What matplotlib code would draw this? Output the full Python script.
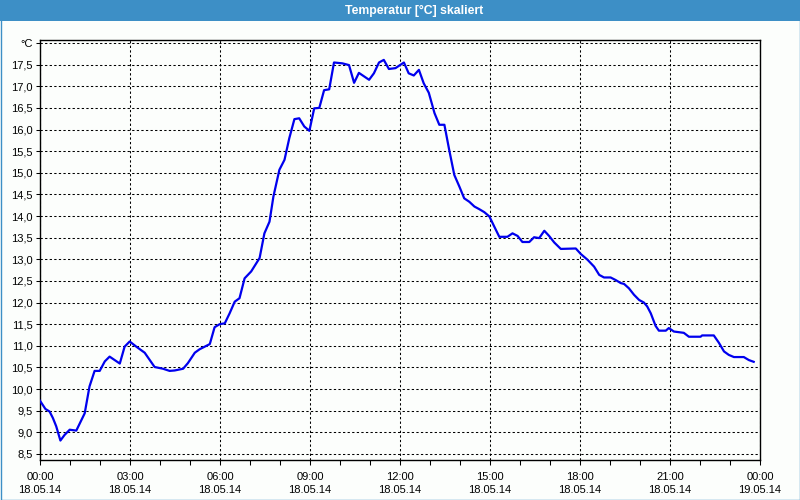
import matplotlib
matplotlib.use("Agg")
import matplotlib.pyplot as plt
from matplotlib.patches import Rectangle
from matplotlib.ticker import FixedLocator, MultipleLocator

# Messwerte (Stunden seit 18.05.14 00:00, Temperatur in °C)
stunden = [0.00, 0.18, 0.32, 0.43, 0.54, 0.68, 0.82, 0.99, 1.21, 1.49, 1.65, 1.82, 1.99, 2.16, 2.32, 2.66,
           2.82, 2.99, 3.21, 3.49, 3.82, 4.10, 4.32, 4.49, 4.77, 4.93, 5.16, 5.32, 5.66, 5.82, 5.99, 6.16,
           6.32, 6.49, 6.65, 6.82, 7.04, 7.32, 7.48, 7.65, 7.78, 7.98, 8.15, 8.31, 8.48, 8.64, 8.81, 8.98,
           9.14, 9.31, 9.47, 9.64, 9.80, 10.08, 10.30, 10.47, 10.63, 10.97, 11.13, 11.30, 11.46, 11.63,
           11.85, 12.13, 12.29, 12.46, 12.63, 12.79, 12.96, 13.15, 13.31, 13.48, 13.64, 13.81, 13.98, 14.14,
           14.31, 14.48, 14.64, 14.81, 14.98, 15.14, 15.31, 15.58, 15.75, 15.92, 16.08, 16.31, 16.47, 16.64,
           16.81, 16.97, 17.14, 17.36, 17.86, 18.03, 18.25, 18.47, 18.64, 18.80, 19.02, 19.19, 19.36, 19.47,
           19.63, 19.80, 19.97, 20.13, 20.24, 20.36, 20.52, 20.63, 20.86, 20.96, 21.13, 21.46, 21.63, 22.02,
           22.07, 22.46, 22.63, 22.80, 22.96, 23.13, 23.46, 23.63, 23.79]
temperatur = [9.73, 9.54, 9.48, 9.33, 9.14, 8.81, 8.94, 9.06, 9.04, 9.44, 10.06, 10.42, 10.42, 10.64, 10.75, 10.59,
              10.98, 11.10, 10.98, 10.84, 10.51, 10.47, 10.42, 10.43, 10.47, 10.60, 10.84, 10.92, 11.04, 11.43, 11.50, 11.52,
              11.75, 12.02, 12.10, 12.56, 12.72, 13.03, 13.60, 13.87, 14.45, 15.07, 15.30, 15.80, 16.24, 16.26, 16.07, 15.97,
              16.49, 16.50, 16.91, 16.93, 17.55, 17.53, 17.49, 17.08, 17.31, 17.15, 17.30, 17.55, 17.61, 17.40,
              17.42, 17.55, 17.30, 17.25, 17.38, 17.07, 16.85, 16.38, 16.11, 16.11, 15.53, 14.95, 14.68, 14.41,
              14.33, 14.22, 14.16, 14.09, 13.99, 13.76, 13.52, 13.52, 13.60, 13.54, 13.40, 13.40, 13.51, 13.49,
              13.66, 13.54, 13.39, 13.24, 13.25, 13.12, 12.99, 12.83, 12.64, 12.58, 12.58, 12.52, 12.45, 12.43,
              12.33, 12.18, 12.06, 12.00, 11.91, 11.75, 11.46, 11.35, 11.35, 11.41, 11.33, 11.30, 11.21, 11.21,
              11.24, 11.24, 11.07, 10.87, 10.79, 10.74, 10.74, 10.67, 10.63]

# Achsenbeschriftungen
x_ticks = [0, 3, 6, 9, 12, 15, 18, 21, 24]
x_labels = ["00:00\n18.05.14", "03:00\n18.05.14", "06:00\n18.05.14", "09:00\n18.05.14",
            "12:00\n18.05.14", "15:00\n18.05.14", "18:00\n18.05.14", "21:00\n18.05.14",
            "00:00\n19.05.14"]
y_ticks = [8.5, 9.0, 9.5, 10.0, 10.5, 11.0, 11.5, 12.0, 12.5, 13.0, 13.5, 14.0, 14.5,
           15.0, 15.5, 16.0, 16.5, 17.0, 17.5, 18.0]
y_labels = ["8,5", "9,0", "9,5", "10,0", "10,5", "11,0", "11,5", "12,0", "12,5", "13,0", "13,5",
            "14,0", "14,5", "15,0", "15,5", "16,0", "16,5", "17,0", "17,5", "°C"]

titel = "Temperatur [°C] skaliert"
blau = "#3d8fc6"
hintergrund = "#fcfefc"

plt.rcParams["font.family"] = ["Liberation Sans", "DejaVu Sans"]

fig = plt.figure(figsize=(8, 5), dpi=100, facecolor=hintergrund)
ax = fig.add_axes([40 / 800, 1 - 460 / 500, 720 / 800, 420 / 500])
ax.set_facecolor(hintergrund)

# Titelleiste + Rahmen
fig.patches.append(Rectangle((0, 1 - 21 / 500), 1, 21 / 500, transform=fig.transFigure,
                             facecolor=blau, edgecolor="none", zorder=0))
fig.patches.append(Rectangle((0.5 / 800, 0.5 / 500), 799 / 800, 499 / 500, transform=fig.transFigure,
                             facecolor="none", edgecolor=blau, linewidth=1.0, zorder=5))
fig.text(414 / 800, 1 - 10.5 / 500, titel, color="white", fontsize=8.8, fontweight="bold",
         ha="center", va="center")

# Kurve
ax.plot(stunden, temperatur, color="#0000ee", linewidth=1.6, zorder=3)

ax.set_xlim(0, 24)
ax.set_ylim(8.36, 18.07)

ax.xaxis.set_major_locator(FixedLocator(x_ticks))
ax.set_xticklabels(x_labels)
ax.xaxis.set_minor_locator(MultipleLocator(1))
ax.yaxis.set_major_locator(FixedLocator(y_ticks))
ax.set_yticklabels(y_labels)

ax.grid(True, which="major", color="black", linestyle=(0, (2.2, 2.2)), linewidth=0.75)
ax.tick_params(axis="x", which="both", direction="out", length=3.5, width=0.75,
               labelsize=8, pad=5)
ax.tick_params(axis="y", which="both", direction="out", length=3, width=0.75,
               labelsize=8, pad=2)
for lab in ax.get_xticklabels():
    lab.set_linespacing(1.45)

for s in ax.spines.values():
    s.set_color("black")
    s.set_linewidth(1.0)

fig.savefig("out.png", dpi=100, facecolor=hintergrund)
